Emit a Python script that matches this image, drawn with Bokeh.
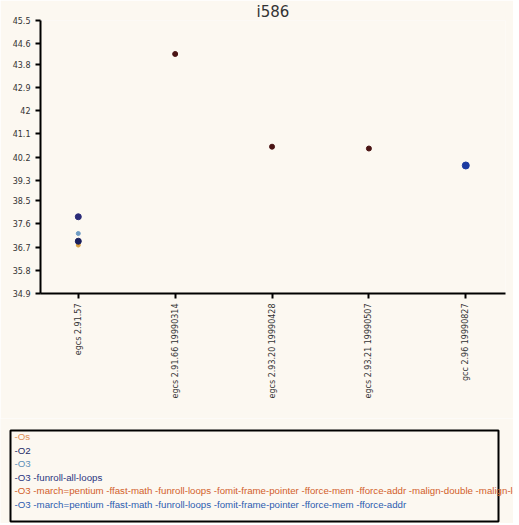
import math
from bokeh.plotting import figure
from bokeh.models import FixedTicker, Range1d, ColumnDataSource
from bokeh.layouts import column
from bokeh.embed import file_html
from bokeh.resources import INLINE
from bokeh.core.properties import value

title_text = "i586"
categories = ["egcs 2.91.57", "egcs 2.91.66 19990314", "egcs 2.93.20 19990428",
              "egcs 2.93.21 19990507", "gcc 2.96 19990827"]
y_ticks = [34.9, 35.8, 36.7, 37.6, 38.5, 39.3, 40.2, 41.1, 42, 42.9, 43.8, 44.6, 45.5]

series_names = [
    "-Os",
    "-O2",
    "-O3",
    "-O3 -funroll-all-loops",
    "-O3 -march=pentium -ffast-math -funroll-loops -fomit-frame-pointer -fforce-mem -fforce-addr -malign-double -malign-loops=2 -malign-jumps=2",
    "-O3 -march=pentium -ffast-math -funroll-loops -fomit-frame-pointer -fforce-mem -fforce-addr",
]
s_os = [36.78, None, None, None, None]
s_o2 = [36.93, None, None, None, None]
s_o3 = [37.23, None, None, None, None]
s_unroll = [37.88, None, None, None, None]
s_malign = [None, 44.2, 40.6, 40.53, None]
s_pentium = [None, None, None, None, 39.87]
series_values = [s_os, s_o2, s_o3, s_unroll, s_malign, s_pentium]

label_colors = ["#e0905a", "#1c2a66", "#5b8fb8", "#2a3580", "#d2602a", "#2c5cb0"]
marker_colors = ["#d9a040", "#1a1f5c", "#6f9cc4", "#2b2b78", "#4a1414", "#1c3aa0"]
marker_sizes = [4, 6, 4, 6, 5, 7]

BG = "#fcf8f1"

p = figure(width=513, height=418, output_backend="svg", toolbar_location=None,
           title=title_text,
           x_range=Range1d(-0.39, 4.41), y_range=Range1d(y_ticks[0], y_ticks[-1]),
           background_fill_color=BG, border_fill_color=BG,
           min_border_left=40, min_border_right=8, min_border_top=0, min_border_bottom=125)
p.title.align = "center"
p.title.text_font = "DejaVu Sans"
p.title.text_font_size = "15px"
p.title.text_font_style = "normal"
p.title.text_color = "#333333"
p.title.text_line_height = 0.75
p.title.standoff = 0
p.outline_line_color = None
p.grid.visible = False

for vals, col, sz in zip(series_values, marker_colors, marker_sizes):
    xs = [i for i, v in enumerate(vals) if v is not None]
    ys = [v for v in vals if v is not None]
    p.scatter(x=xs, y=ys, size=sz, color=col, line_color=col)

p.xaxis.ticker = FixedTicker(ticks=list(range(len(categories))))
p.xaxis.major_label_overrides = {i: c for i, c in enumerate(categories)}
p.xaxis.major_label_orientation = math.pi / 2
p.yaxis.ticker = FixedTicker(ticks=y_ticks)
p.yaxis.major_label_overrides = {t: ("%g" % t) for t in y_ticks}
for ax in (p.xaxis, p.yaxis):
    ax.axis_line_width = 2
    ax.axis_line_color = "black"
    ax.major_tick_line_color = "black"
    ax.major_tick_line_width = 2
    ax.major_tick_out = 5
    ax.major_tick_in = 0
    ax.minor_tick_line_color = None
    ax.major_label_text_font = "DejaVu Sans"
    ax.major_label_text_font_size = "8px"
    ax.major_label_text_color = "#333333"

# legend panel
lg = figure(width=513, height=105, output_backend="svg", toolbar_location=None,
            x_axis_location=None, y_axis_location=None,
            x_range=Range1d(0, 513), y_range=Range1d(105, 0),
            background_fill_color=BG, border_fill_color=BG,
            min_border_left=0, min_border_right=0, min_border_top=0, min_border_bottom=0)
lg.outline_line_color = None
lg.grid.visible = False
lg.quad(left=[10], right=[498], top=[12], bottom=[103], fill_color=None,
        line_color="black", line_width=2)
src = ColumnDataSource(dict(x=[14] * len(series_names),
                            y=[18 + i * 13.5 for i in range(len(series_names))],
                            t=series_names, c=label_colors))
lg.text(x="x", y="y", text="t", text_color="c", source=src,
        text_font=value("Liberation Sans"), text_font_size="9.7px",
        text_baseline="middle", text_align="left")

for fig in (p, lg):
    if "frame_align" in fig.properties():
        fig.frame_align = False

layout = column(p, lg, spacing=0)
open("out.html", "w").write(file_html(layout, INLINE))
